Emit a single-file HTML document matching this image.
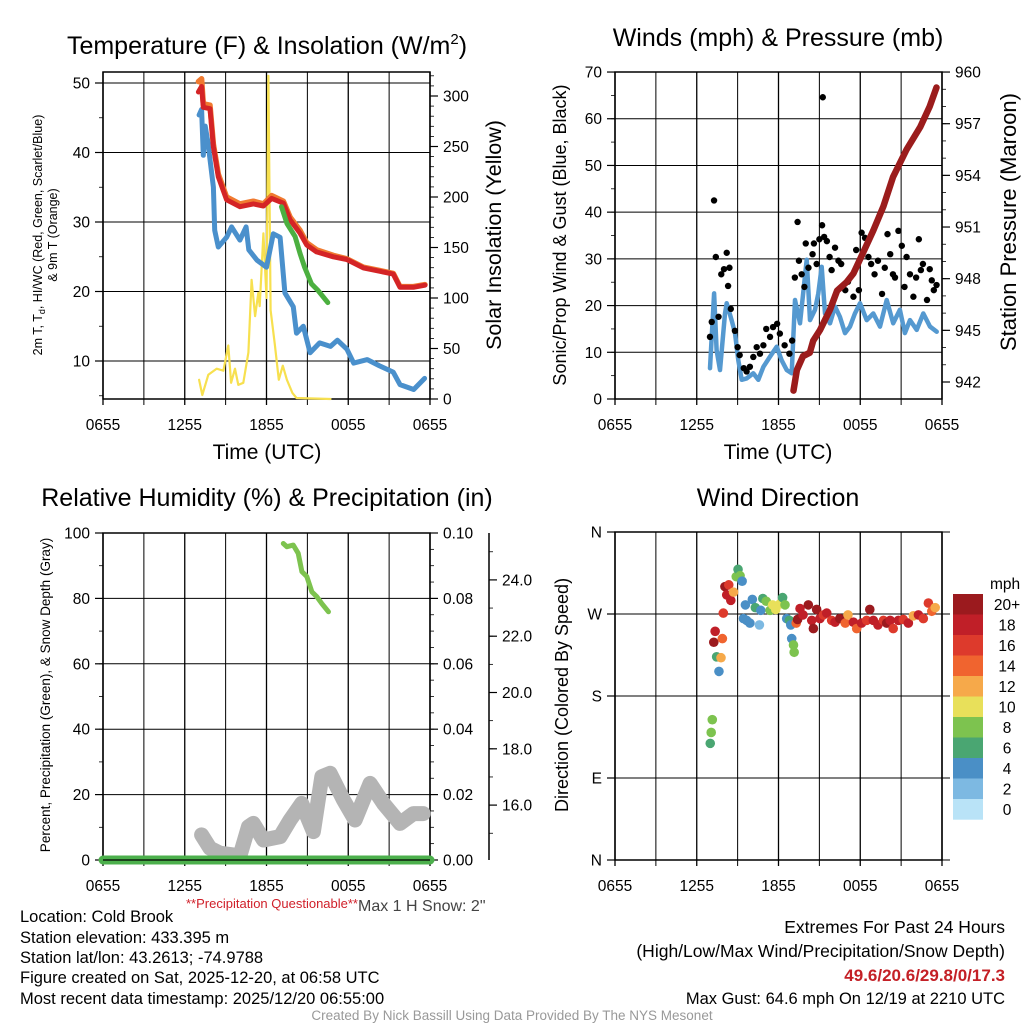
<!DOCTYPE html>
<html><head><meta charset="utf-8">
<style>
body{margin:0;background:#fff;}
svg{display:block;font-family:"Liberation Sans",Arial,sans-serif;}
</style></head>
<body>
<svg id="c" width="1024" height="1024" viewBox="0 0 1024 1024">
<text x="267" y="54" font-size="25" text-anchor="middle">Temperature (F) &amp; Insolation (W/m<tspan font-size="15" dy="-10">2</tspan><tspan dy="10">)</tspan></text>
<text x="778" y="46" font-size="25" text-anchor="middle">Winds (mph) &amp; Pressure (mb)</text>
<text x="267" y="506" font-size="25" text-anchor="middle">Relative Humidity (%) &amp; Precipitation (in)</text>
<text x="778" y="506" font-size="25" text-anchor="middle">Wind Direction</text>
<text x="267" y="459" font-size="21" text-anchor="middle">Time (UTC)</text>
<text x="778" y="459" font-size="21" text-anchor="middle">Time (UTC)</text>
<text transform="translate(42,235) rotate(-90)" font-size="12.5" text-anchor="middle">2m T, T<tspan font-size="9" dy="3">d</tspan><tspan dy="-3">, HI/WC (Red, Green, Scarlet/Blue)</tspan></text>
<text transform="translate(57,235) rotate(-90)" font-size="12.5" text-anchor="middle">&amp; 9m T (Orange)</text>
<text transform="translate(501,235) rotate(-90)" font-size="21.5" text-anchor="middle">Solar Insolation (Yellow)</text>
<text transform="translate(566,235) rotate(-90)" font-size="18" text-anchor="middle">Sonic/Prop Wind &amp; Gust (Blue, Black)</text>
<text transform="translate(1016,222) rotate(-90)" font-size="22" text-anchor="middle">Station Pressure (Maroon)</text>
<text transform="translate(50,695) rotate(-90)" font-size="13.5" text-anchor="middle">Percent, Precipitation (Green), &amp; Snow Depth (Gray)</text>
<text transform="translate(568,695) rotate(-90)" font-size="18" text-anchor="middle">Direction (Colored By Speed)</text>
<text x="186" y="908" font-size="13" fill="#d0202a">**Precipitation Questionable**</text>
<text x="358" y="911" font-size="16" fill="#444">Max 1 H Snow: 2"</text>
<g font-size="16.5">
<text x="20" y="922">Location: Cold Brook</text>
<text x="20" y="943">Station elevation: 433.395 m</text>
<text x="20" y="963">Station lat/lon: 43.2613; -74.9788</text>
<text x="20" y="983">Figure created on Sat, 2025-12-20, at 06:58 UTC</text>
<text x="20" y="1004">Most recent data timestamp: 2025/12/20 06:55:00</text>
</g>
<g font-size="17.5" text-anchor="end">
<text x="1005" y="933">Extremes For Past 24 Hours</text>
<text x="1005" y="957">(High/Low/Max Wind/Precipitation/Snow Depth)</text>
<text x="1005" y="981" fill="#c42026" font-weight="bold" font-size="17">49.6/20.6/29.8/0/17.3</text>
<text x="1005" y="1004" font-size="16.5">Max Gust: 64.6 mph On 12/19 at 2210 UTC</text>
</g>
<text x="512" y="1020" font-size="13.5" fill="#999" text-anchor="middle">Created By Nick Bassill Using Data Provided By The NYS Mesonet</text>
</svg>
<script>
// ---- data (hours since 0655 UTC) ----
const tempHours=[7.0,7.24,7.36,7.85,8.1,8.46,9.07,10.05,11.03,11.77,12.38,13.24,13.73,14.46,14.95,15.68,16.9,17.89,19.11,20.33,21.31,21.8,22.78,23.63];
const tempRed=[48.7,49.5,46.5,46.3,40.8,36.5,33.2,32.2,32.6,32.3,33.4,32.7,30.3,28.4,26.7,25.7,25.0,24.6,23.4,22.9,22.5,20.6,20.6,20.9];
const temp9m=[50.2,50.6,47.0,46.8,41.2,36.9,33.6,32.6,33.0,32.6,33.8,33.0,30.7,28.8,27.0,26.0,25.2,24.7,23.5,23.0,22.6,20.7,20.7,21.0];
const dewHours=[7.05,7.24,7.36,7.5,7.7,8.1,8.2,8.46,9.07,9.44,10.05,10.5,10.7,11.3,12.0,12.5,13.0,13.35,13.97,14.2,14.7,15.2,15.9,16.7,17.2,17.9,18.4,19.4,20.3,21.3,21.8,22.8,23.6];
const dewBlue=[45.4,46.2,39.6,43.8,41.5,35.0,28.8,26.4,27.8,29.3,27.4,29.3,26.0,24.5,23.5,28.3,27.8,19.8,17.8,14.0,15.0,11.2,12.6,12.1,13.0,11.7,9.7,10.2,9.3,8.4,6.6,5.9,7.5];
const wcHours=[13.1,13.5,14.1,14.46,14.8,15.3,15.8,16.5];
const wcGreen=[32.2,29.8,27.9,25.5,23.5,21.1,20.1,18.4];
const solHours=[7.05,7.29,7.73,8.34,8.84,9.2,9.4,9.69,9.93,10.3,10.67,10.91,11.16,11.4,11.5,11.77,12.0,12.14,12.3,12.6,12.9,13.2,13.5,13.9,14.2,16.7];
const solar=[19,4,24,30,28,53,16,30,14,16,46,118,82,105,92,164,100,320,88,55,19,33,19,6,1,0];
const windHours=[6.97,7.27,7.46,7.71,8.07,8.2,8.56,8.81,9.05,9.3,9.66,10.15,10.52,10.89,11.38,11.87,12.23,12.6,12.97,13.21,13.58,14.07,14.31,14.68,14.92,15.17,15.41,15.78,16.15,16.51,16.88,17.25,17.61,17.98,18.47,18.96,19.45,19.94,20.42,20.91,21.28,21.65,22.14,22.63,23.12,23.61];
const windSpeed=[6.6,22.6,10.5,6.2,18.3,20.5,16.9,14.1,8.3,4.1,4.4,5.5,4.1,6.9,9.1,11.2,8.3,6.2,5.5,21.2,16.2,29.8,16.9,19.1,22.6,28.3,18.3,16.2,19.8,17.6,14.1,15.5,18.3,20.5,16.9,18.3,15.5,21.2,16.2,19.1,14.1,16.9,14.8,18.3,15.5,14.4];
const gustHours=[6.97,7.1,7.27,7.4,7.6,7.8,8.0,8.2,8.3,8.4,8.5,8.8,9.0,9.15,9.45,9.66,9.9,10.15,10.4,10.64,10.89,11.1,11.38,11.6,11.9,12.1,12.45,12.8,13.0,13.2,13.4,13.5,13.7,13.9,14.0,14.2,14.5,14.6,14.8,15.0,15.2,15.25,15.35,15.55,15.75,15.9,16.15,16.4,16.6,16.9,17.1,17.5,17.7,17.9,18.1,18.35,18.6,18.8,19.05,19.3,19.6,19.8,20.0,20.2,20.4,20.55,20.8,21.05,21.25,21.4,21.65,21.9,22.1,22.3,22.45,22.6,22.9,23.1,23.25,23.4,23.6];
const gust=[13.3,16.5,42.5,30.4,17.6,26.7,27.8,31.3,24.2,28.1,19.3,14.6,11.1,9.4,6.6,5.9,6.9,9.0,11.1,9.7,11.5,15.0,13.3,15.4,16.1,14.0,11.5,9.7,12.5,26.0,37.9,29.6,26.7,24.0,33.3,28.1,31.0,33.3,28.9,34.2,37.2,64.6,34.7,33.8,30.4,27.6,32.4,29.6,28.9,23.3,25.1,21.9,31.9,23.3,35.6,34.5,30.4,28.9,26.7,29.6,22.5,28.1,35.3,31.0,26.7,26.0,36.0,32.8,24.0,30.4,26.7,21.9,26.0,34.2,27.6,28.9,21.2,27.8,25.4,23.3,24.4];
const presHours=[13.1,13.35,13.8,14.3,14.55,15.04,15.78,16.3,17.0,17.5,18.2,18.96,19.7,20.4,21.4,22.4,23.1,23.6];
const pressure=[941.5,942.7,943.5,943.7,944.4,945.0,946.2,947.3,947.8,948.3,949.5,950.8,952.2,953.9,955.5,956.8,958.0,959.1];
const rhHours=[13.23,13.5,13.97,14.33,14.6,14.96,15.33,15.7,16.06,16.55];
const rh=[96.8,95.8,96.3,93.8,88.2,86.7,82.0,80.5,78.4,75.9];
const precipHours=[0,24];
const precip=[0,0];
const snowHours=[7.24,7.85,8.59,9.57,10.05,10.67,11.03,11.77,13.0,13.73,14.58,15.44,16.06,16.67,17.65,18.5,19.6,20.58,21.8,22.78,23.5];
const snow=[14.94,14.47,14.29,14.23,14.2,15.23,15.35,14.76,14.88,15.47,16.06,15.06,17.01,17.13,16.18,15.47,16.77,16.06,15.35,15.7,15.7];
const dirHours=[6.99,7.06,7.14,7.25,7.35,7.46,7.63,7.78,7.88,7.95,8.07,8.2,8.35,8.5,8.7,8.9,9.03,9.18,9.33,9.43,9.57,9.66,9.9,10.08,10.3,10.6,10.7,10.85,11.1,11.38,11.57,11.8,12.1,12.3,12.48,12.6,12.8,12.9,12.97,13.1,13.15,13.3,13.4,13.58,13.8,14.19,14.44,14.56,14.8,15.04,15.3,15.54,15.9,16.15,16.5,16.9,17.1,17.5,17.74,18.1,18.47,18.7,18.96,19.3,19.7,19.94,20.2,20.42,20.8,21.16,21.53,21.9,22.27,22.63,23.0,23.25,23.5];
const direction=[128,140,154,239,251,223,207,222,243,271,300,291,302,285,294,311,319,312,306,265,280,263,260,286,277,258,274,287,284,274,280,275,281,288,280,265,263,258,243,236,228,260,264,276,269,280,263,254,275,265,269,271,263,261,265,260,269,261,254,260,263,275,263,258,263,260,263,254,263,264,260,268,269,265,282,273,277];
const dirSpeed=[6,8,8,20,18,6,4,12,14,16,20,18,16,18,12,8,6,8,4,4,4,4,4,4,6,2,4,6,8,8,10,10,10,6,8,4,6,4,4,8,8,14,20,18,18,20,18,20,20,18,16,18,16,18,20,14,12,18,14,18,16,20,18,18,16,20,18,16,18,16,18,12,18,16,16,14,12];
const xTickLabels=['0655','1255','1855','0055','0655'];
const legendLabels=['20+','18','16','14','12','10','8','6','4','2','0'];
const legendColors=['#9b1a1e','#c01f28','#dd3a2c','#f0642f','#f6a94a','#e8e05a','#7dc34f','#4aa672','#4a8fc6','#7db9e2','#b9e3f7'];

const svg=document.getElementById('c');
const NS='http://www.w3.org/2000/svg';
function mk(tag,attrs,parent){const e=document.createElementNS(NS,tag);for(const k in attrs)e.setAttribute(k,attrs[k]);(parent||svg).appendChild(e);return e;}
function speedColor(s){const i=Math.min(10,Math.max(0,Math.round(s/2)));return legendColors[10-i];}

function frame(X0,X1,Y0,Y1,name){
  const g=mk('g',{});
  
  
  for(let h=0;h<=24;h+=3){
    const x=X0+h/24*(X1-X0);
    const l=mk('line',{x1:x,x2:x,y1:Y0,y2:Y1+6,stroke:'#000','stroke-width':(h%6?1:1.3)},g);
    
    
  }
  xTickLabels.forEach((t,i)=>{
    const x=X0+i*6/24*(X1-X0);
    const tx=mk('text',{x:x,y:Y1+31,'font-size':15.5,'text-anchor':'middle'},g);tx.textContent=t;
    
    
  });
  const r=mk('rect',{x:X0,y:Y0,width:X1-X0,height:Y1-Y0,fill:'none',stroke:'#000','stroke-width':1.5},g);
  
  
  return g;
}
function yAxis(X0,X1,vals,ymap,labels,side,minorStep,lo,hi,name,grid){
  const g=mk('g',{});
  
  
  const xe=side==='l'?X0:X1, d=side==='l'?-1:1;
  for(let v=lo;v<=hi+1e-9;v+=minorStep){
    const y=ymap(v);
    const m=mk('line',{x1:xe,x2:xe+d*4,y1:y,y2:y,stroke:'#000','stroke-width':0.8},g);
    
    
  }
  vals.forEach((v,i)=>{
    const y=ymap(v);
    if(grid){const gl=mk('line',{x1:X0,x2:X1,y1:y,y2:y,stroke:'#000','stroke-width':1},g);
      
      }
    const t=mk('line',{x1:xe,x2:xe+d*8,y1:y,y2:y,stroke:'#000','stroke-width':1.2},g);
    
    
    const tx=mk('text',{x:xe+d*13,y:y+5.5,'font-size':15.5,'text-anchor':side==='l'?'end':'start'},g);
    tx.textContent=labels[i];
    
    
  });
}
function line(hs,vs,xmap,ymap,color,w,name){
  const p=hs.map((h,i)=>xmap(h).toFixed(1)+','+ymap(vs[i]).toFixed(1)).join(' ');
  const e=mk('polyline',{points:p,fill:'none',stroke:color,'stroke-width':w,'stroke-linejoin':'round','stroke-linecap':'round'});
  
  
}

// ---------- Panel 1: temperature ----------
{
const X0=103,X1=430,Y0=72,Y1=399;
const xm=h=>X0+h/24*(X1-X0), yl=v=>83+(50-v)*6.95, yr=v=>399-v*1.01;
frame(X0,X1,Y0,Y1,'temp-frame');
yAxis(X0,X1,[10,20,30,40,50],yl,['10','20','30','40','50'],'l',5,5,50,'temp-left-axis',true);
yAxis(X0,X1,[0,50,100,150,200,250,300],yr,['0','50','100','150','200','250','300'],'r',10,0,320,'insolation-right-axis',false);
line(solHours,solar,xm,yr,'#f7e04f',2.2,'insolation-line');
line(dewHours,dewBlue,xm,yl,'#4a90cc',5,'dewpoint-line');
line(tempHours,temp9m,xm,yl,'#f07a30',5.5,'temp-9m-line');
line(tempHours,tempRed,xm,yl,'#d42426',5,'temp-2m-line');
line(wcHours,wcGreen,xm,yl,'#4cb040',5,'windchill-line');
}
// ---------- Panel 2: wind ----------
{
const X0=615,X1=942,Y0=72,Y1=399;
const xm=h=>X0+h/24*(X1-X0), yl=v=>399-v*4.671, yr=p=>382-(p-942)*17.22;
frame(X0,X1,Y0,Y1,'wind-frame');
yAxis(X0,X1,[0,10,20,30,40,50,60,70],yl,['0','10','20','30','40','50','60','70'],'l',5,0,70,'wind-left-axis',true);
yAxis(X0,X1,[942,945,948,951,954,957,960],yr,['942','945','948','951','954','957','960'],'r',1,942,960,'pressure-right-axis',false);
line(windHours,windSpeed,xm,yl,'#5599d0',4.5,'wind-speed-line');
gustHours.forEach((h,i)=>{
  const c=mk('circle',{cx:xm(h),cy:yl(gust[i]),r:3.2,fill:'#000'});
  
  
});
line(presHours,pressure,xm,yr,'#9b1c1c',6.5,'pressure-line');
}
// ---------- Panel 3: RH ----------
{
const X0=103,X1=430,Y0=533,Y1=860;
const xm=h=>X0+h/24*(X1-X0), yl=v=>860-v*3.27, yp=v=>860-v*3270, ys=s=>860-(s-14.05)*28.15;
frame(X0,X1,Y0,Y1,'rh-frame');
yAxis(X0,X1,[0,20,40,60,80,100],yl,['0','20','40','60','80','100'],'l',10,0,100,'rh-left-axis',true);
yAxis(X0,X1,[0,0.02,0.04,0.06,0.08,0.1],yp,['0.00','0.02','0.04','0.06','0.08','0.10'],'r',0.005,0,0.1,'precip-right-axis',false);
const ax=mk('line',{x1:489,x2:489,y1:533,y2:860,stroke:'#000','stroke-width':1.5});


yAxis(489,489,[16,18,20,22,24],ys,['16.0','18.0','20.0','22.0','24.0'],'r',1,15,25,'snow-axis',false);
line(snowHours,snow,xm,ys,'#b4b4b4',15,'snow-depth-line');
line(precipHours,precip,xm,yp,'#4cb04c',9,'precip-line');
const z=mk('line',{x1:X0,x2:X1,y1:860,y2:860,stroke:'#000','stroke-width':1.3});


line(rhHours,rh,xm,yl,'#7dc34f',5,'rh-line');
}
// ---------- Panel 4: direction ----------
{
const X0=615,X1=942,Y0=532,Y1=860;
const xm=h=>X0+h/24*(X1-X0), yd=d=>860-d*328/360;
frame(X0,X1,Y0,Y1,'dir-frame');
yAxis(X0,X1+8,[0,90,180,270,360],yd,['N','E','S','W','N'],'l',90,0,360,'dir-left-axis',true);
dirHours.forEach((h,i)=>{
  const c=mk('circle',{cx:xm(h),cy:yd(direction[i]),r:4.8,fill:speedColor(dirSpeed[i])});
  
  
});
const lg=mk('g',{});


const t=mk('text',{x:990,y:589,'font-size':15.5},lg);t.textContent='mph';


legendLabels.forEach((lab,i)=>{
  const y=594+i*20.5;
  const r=mk('rect',{x:953,y:y,width:30,height:20.7,fill:legendColors[i]},lg);
  
  
  const tx=mk('text',{x:1007,y:y+16,'font-size':15.5,'text-anchor':'middle'},lg);tx.textContent=lab;
  
  
});
}
</script>
</body></html>
